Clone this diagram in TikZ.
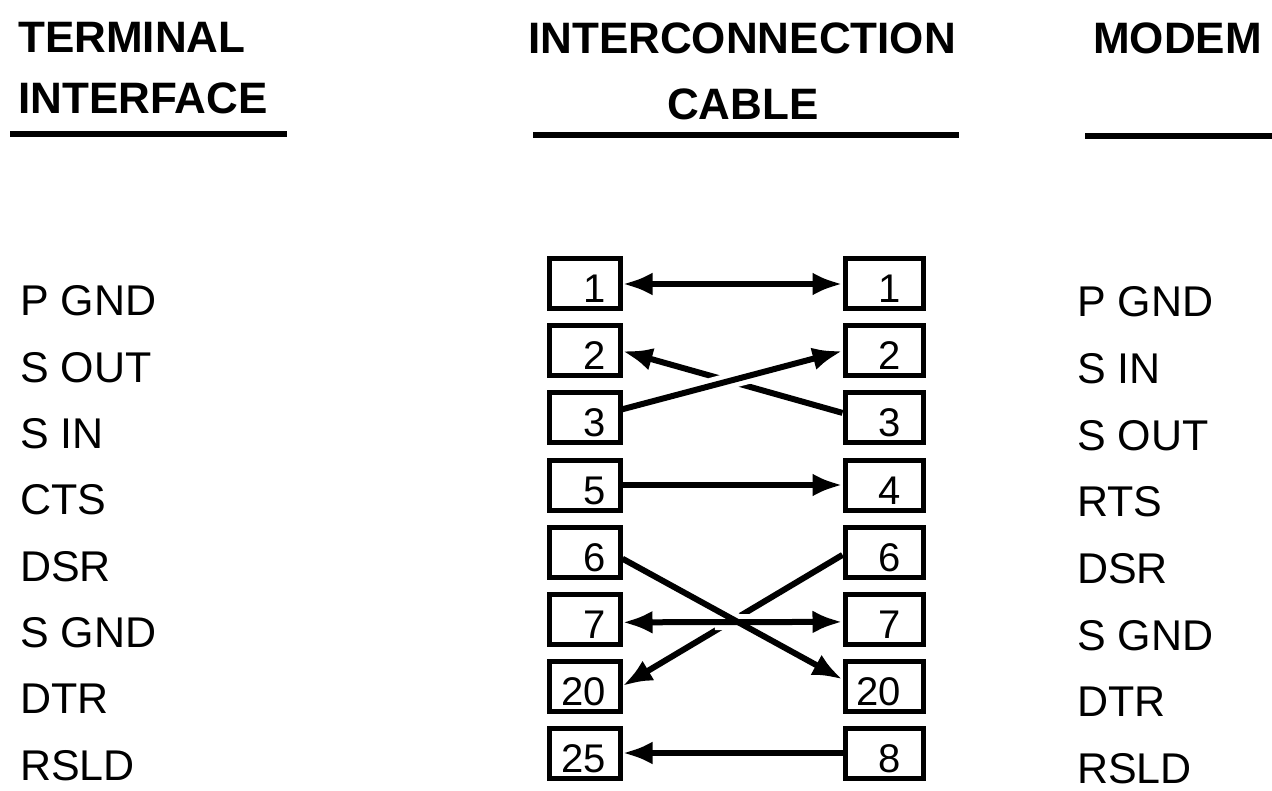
\documentclass[tikz,border=0pt]{standalone}
\usepackage{fontspec}
\setmainfont{Liberation Sans}
\usetikzlibrary{calc}
\usetikzlibrary{arrows.meta}
\tikzset{>={Latex[length=30pt, width=23pt]}}
\tikzset{
  head/.style = {draw=none, inner sep=0, font=\fontsize{44}{44}\selectfont\bfseries},
  sig/.style = {draw=none, inner sep=0, anchor=base west, font=\fontsize{43}{43}\selectfont},
  lpin/.style = {draw, line width=5pt, inner sep=0, minimum width=71pt, minimum height=50pt,
    text height=38pt, text depth=0pt, font=\fontsize{40}{40}\selectfont},
  rpin/.style = {lpin, minimum width=78pt},
  wire/.style = {line width=6pt},
  gap/.style = {draw=white, line width=16pt},
  rule/.style = {line width=5.5pt}
}
\newcommand{\pinno}[2][42pt]{\makebox[#1][r]{#2}}

\begin{document}
\begin{tikzpicture}[x=1pt, y=-1pt]
\useasboundingbox (0, 0) rectangle (1272, 791);
% headings
\node [head, anchor=base west] (term) at (18, 53) {TERMINAL};
\node [head, anchor=base west] (iface) at (18, 114) {INTERFACE};
\node [head, anchor=base] (inter) at (742, 54) {INTERCONNECTION};
\node [head, anchor=base] (cable) at (743, 120) {CABLE};
\node [head, anchor=base west] (modem) at (1093, 54) {MODEM};
\draw [rule] (10, 134) -- (287, 134);
\draw [rule] (533, 135) -- (959, 135);
\draw [rule] (1085, 136) -- (1272, 136);

% pins and signal names
\foreach \i/\tname/\lnum/\rnum/\mname in {1/P GND/1/1/P GND, 2/S OUT/2/2/S IN,
    3/S IN/3/3/S OUT, 4/CTS/5/4/RTS, 5/DSR/6/6/DSR, 6/S GND/7/7/S GND,
    7/DTR/20/20/DTR, 8/RSLD/25/8/RSLD}{
  \node [sig] (ts\i) at (20, {316+66.3*(\i-1)}) {\tname};
  \node [lpin] (l\i) at (584.5, {284+67*(\i-1)}) {\pinno{\lnum}};
  \node [rpin] (r\i) at (884, {284+67*(\i-1)}) {\pinno[34pt]{\rnum}};
  \node [sig] (ms\i) at (1077, {317+66.6*(\i-1)}) {\mname};
}

% wires
\draw [wire, <->] (l1) -- (r1);
\draw [wire, ->] (r3.173) -- (l2.east);
\draw [gap] ($(l3.13)!.4!(r2.west)$) -- ($(l3.13)!.58!(r2.west)$);
\draw [wire, ->] (l3.13) -- (r2.west);
\draw [wire, ->] (l4) -- (r4);
\draw [wire, ->] (r5.184) -- (l7.east);
\draw [gap] ($(l6.-5)!.42!(r6.184)$) -- ($(l6.-5)!.58!(r6.184)$);
\draw [gap] ($(l5.-10)!.42!(r7.171)$) -- ($(l5.-10)!.58!(r7.171)$);
\draw [wire, <->] (l6.-5) -- (r6.184);
\draw [wire, ->] (l5.-10) -- (r7.171);
\draw [wire, ->] (r8) -- (l8);
\end{tikzpicture}
\end{document}
